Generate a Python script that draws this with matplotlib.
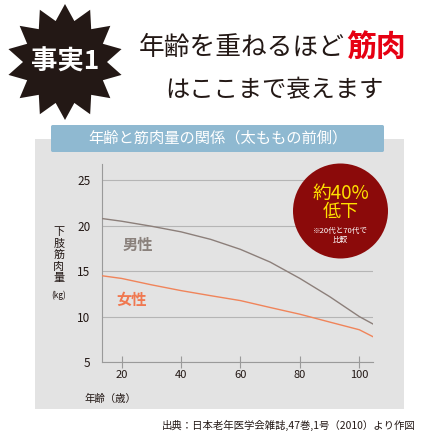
import matplotlib
matplotlib.use('Agg')
import matplotlib.pyplot as plt
from matplotlib.patches import Polygon, Rectangle, Circle, FancyBboxPatch
import numpy as np

plt.rcParams['font.family'] = ['Noto Sans CJK JP', 'DejaVu Sans']

# data
ages = [13.3, 20, 30, 40, 50, 60, 70, 80, 90, 100, 104.5]
male = [20.8, 20.5, 19.95, 19.33, 18.5, 17.4, 16.0, 14.2, 12.2, 10.0, 9.2]
female = [14.5, 14.2, 13.5, 12.86, 12.3, 11.76, 11.0, 10.26, 9.4, 8.55, 7.8]
x_ticks = [20, 40, 60, 80, 100]
y_ticks = [5, 10, 15, 20, 25]
y_label_chars = ['下', '肢', '筋', '肉', '量']

W = 440


def fx(x):
    return x / W


def fy(y):
    return 1 - y / W


fig = plt.figure(figsize=(4.4, 4.4), dpi=100)
fig.patch.set_facecolor('white')

# gray panel behind the chart
fig.patches.append(Rectangle((fx(35), fy(409)), fx(404) - fx(35), fy(139) - fy(409),
                             transform=fig.transFigure, facecolor='#e3e3e3', edgecolor='none', zorder=0))
# blue header bar
fig.patches.append(FancyBboxPatch((fx(51), fy(152)), fx(384) - fx(51), fy(125) - fy(152),
                                  boxstyle='round,pad=0,rounding_size=0.004',
                                  transform=fig.transFigure, facecolor='#8fb9d1', edgecolor='none', zorder=1))
fig.text(fx(218), fy(138), '年齢と筋肉量の関係（太ももの前側）', color='white', fontsize=11,
         ha='center', va='center', zorder=2)

# starburst badge
n = 14
cx, cy = 65, 62
pts = []
for i in range(2 * n):
    a = np.pi / 2 + i * np.pi / n
    r = 58 if i % 2 == 0 else 42
    pts.append((fx(cx + r * np.cos(a)), fy(cy - r * np.sin(a))))
fig.patches.append(Polygon(pts, closed=True, transform=fig.transFigure,
                           facecolor='#231815', edgecolor='none', zorder=1))
fig.text(fx(cx), fy(cy), '事実1', color='white', fontsize=19, fontweight='bold',
         ha='center', va='center', zorder=2)

# headline
fig.text(fx(345), fy(48), '年齢を重ねるほど', color='#231815', fontsize=18.5, ha='right', va='center')
fig.text(fx(346), fy(47), '筋肉', color='#e60012', fontsize=21.5, fontweight='bold', ha='left', va='center')
fig.text(fx(274), fy(90), 'はここまで衰えます', color='#231815', fontsize=17.5, ha='center', va='center')

# chart
ax = fig.add_axes([fx(101.7), fy(362), fx(372.7) - fx(101.7), fy(164) - fy(362)])
ax.set_zorder(3)
ax.set_facecolor('none')
ax.plot(ages, male, color='#8c7f7a', lw=1.0, zorder=3)
ax.plot(ages, female, color='#f0845a', lw=1.0, zorder=3)
ax.set_xlim(13.3, 104.5)
ax.set_ylim(5, 26.8)
ax.set_xticks(x_ticks)
ax.set_yticks(y_ticks)
ax.yaxis.grid(True, color='#b5b5b5', lw=0.8)
ax.set_axisbelow(True)
for s in ['top', 'right']:
    ax.spines[s].set_visible(False)
for s in ['left', 'bottom']:
    ax.spines[s].set_color('#9a9a9a')
    ax.spines[s].set_linewidth(0.8)
ax.tick_params(axis='x', direction='inout', length=8, width=0.8, color='#9a9a9a',
               labelsize=8, labelcolor='#231815', pad=2)
ax.tick_params(axis='y', length=0, labelsize=8.5, labelcolor='#231815', pad=8)

ax.text(20.5, 17.86, '男性', color='#8a817c', fontsize=11, fontweight='bold', ha='left', va='center')
ax.text(18.1, 11.8, '女性', color='#f07850', fontsize=11, fontweight='bold', ha='left', va='center')

# axis labels
for i, ch in enumerate(y_label_chars):
    fig.text(fx(59), fy(232 + 11.5 * i), ch, fontsize=8, ha='center', va='center', color='#231815')
fig.text(fx(59), fy(295), '(kg)', fontsize=6, ha='center', va='center', color='#231815')
fig.text(fx(84), fy(399), '年齢（歳）', fontsize=7.5, ha='left', va='center', color='#231815')

# red circle badge
fig.patches.append(Circle((fx(340.5), fy(211)), 47.5 / W, transform=fig.transFigure,
                          facecolor='#8b0a0a', edgecolor='none', zorder=5))
fig.text(fx(340.5), fy(193), '約40%', color='#ffe100', fontsize=13.5, ha='center', va='center', zorder=6)
fig.text(fx(340.5), fy(212), '低下', color='#ffe100', fontsize=13, ha='center', va='center', zorder=6)
fig.text(fx(340.5), fy(231), '※20代と70代で', color='white', fontsize=5.5, ha='center', va='center', zorder=6)
fig.text(fx(340.5), fy(240), '比較', color='white', fontsize=5.5, ha='center', va='center', zorder=6)

# source
fig.text(fx(416), fy(425), '出典：日本老年医学会雑誌,47巻,1号（2010）より作図', fontsize=7.5,
         ha='right', va='center', color='#231815')

fig.savefig('out.png', dpi=100)
